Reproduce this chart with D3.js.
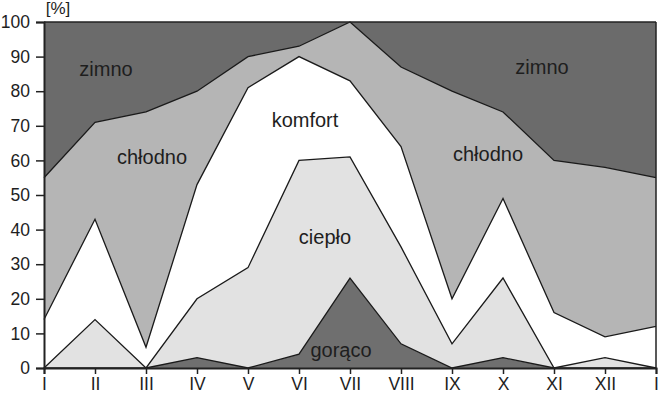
<!DOCTYPE html>
<html><head><meta charset="utf-8">
<script src="https://cdn.jsdelivr.net/npm/d3@7"></script>
<style>body{margin:0;background:#fff}svg{display:block}text{font-family:"Liberation Sans",Arial,sans-serif;fill:#1e1e1e}</style>
</head><body><svg id="c" width="660" height="393"></svg>
<script>
const months = ["I","II","III","IV","V","VI","VII","VIII","IX","X","XI","XII","I "];
const goraco  = [0,0,0,3,0,4,26,7,0,3,0,0,0];
const cieplo  = [0,14,0,17,29,56,35,28,7,23,0,3,0];
const komfort = [14,29,6,33,52,30,22,29,13,23,16,6,12];
const chlodno = [41,28,68,27,9,3,17,23,60,25,44,49,43];
const zimno   = [45,29,26,20,10,7,0,13,20,26,40,42,45];
const yTicks = [0,10,20,30,40,50,60,70,80,90,100];
const keys = ["goraco","cieplo","komfort","chlodno","zimno"];
const colors = {goraco:"#6f6f6f",cieplo:"#e2e2e2",komfort:"#ffffff",chlodno:"#b5b5b5",zimno:"#6b6b6b"};
const rows = months.map((m,i)=>({m,goraco:goraco[i],cieplo:cieplo[i],komfort:komfort[i],chlodno:chlodno[i],zimno:zimno[i]}));

const svg = d3.select("#c");
const L=44,R=656,T=22,B=368;
const x = d3.scalePoint().domain(months).range([L,R]);
const y = d3.scaleLinear().domain([0,100]).range([B,T]);
const series = d3.stack().keys(keys)(rows);
const area = d3.area().x(d=>x(d.data.m)).y0(d=>y(d[0])).y1(d=>y(d[1]));
const line = d3.line().x(d=>x(d.data.m)).y(d=>y(d[1]));
svg.append("g").selectAll("path").data(series).join("path")
  .attr("d",area).attr("fill",d=>colors[d.key]);
svg.append("g").selectAll("path").data(series.slice(0,4)).join("path")
  .attr("d",line).attr("fill","none").attr("stroke","#1a1a1a").attr("stroke-width",1.3).attr("stroke-linejoin","miter");
svg.append("line").attr("x1",L).attr("x2",R).attr("y1",y(100)).attr("y2",y(100)).attr("stroke","#222").attr("stroke-width",1.5);
svg.append("line").attr("x1",R).attr("x2",R).attr("y1",y(100)).attr("y2",y(0)).attr("stroke","#222").attr("stroke-width",1.5);

const ya = svg.append("g").attr("transform",`translate(${L},0)`)
  .call(d3.axisLeft(y).tickValues(yTicks).tickSize(8).tickPadding(6));
ya.select(".domain").attr("stroke","#222").attr("stroke-width",2);
ya.selectAll(".tick line").attr("stroke","#222").attr("stroke-width",1.5);
ya.selectAll("text").style("font-size","17.5px").attr("fill","#1e1e1e");
const xa = svg.append("g").attr("transform",`translate(0,${B})`)
  .call(d3.axisBottom(x).tickSize(6).tickPadding(4));
xa.select(".domain").attr("stroke","#222").attr("stroke-width",2);
xa.selectAll(".tick line").attr("stroke","#222").attr("stroke-width",1.5);
xa.selectAll("text").style("font-size","17.5px").attr("fill","#1e1e1e");

svg.append("text").attr("x",58).attr("y",14).attr("text-anchor","middle").style("font-size","17px").text("[%]");
const labels = [
  ["zimno",106,76],["chłodno",152,164],["komfort",305,127],["ciepło",325,244],["gorąco",341,357],
  ["zimno",542,74],["chłodno",488,161]
];
svg.append("g").selectAll("text").data(labels).join("text")
  .attr("x",d=>d[1]).attr("y",d=>d[2]).attr("text-anchor","middle").style("font-size","20px").text(d=>d[0]);
</script></body></html>
